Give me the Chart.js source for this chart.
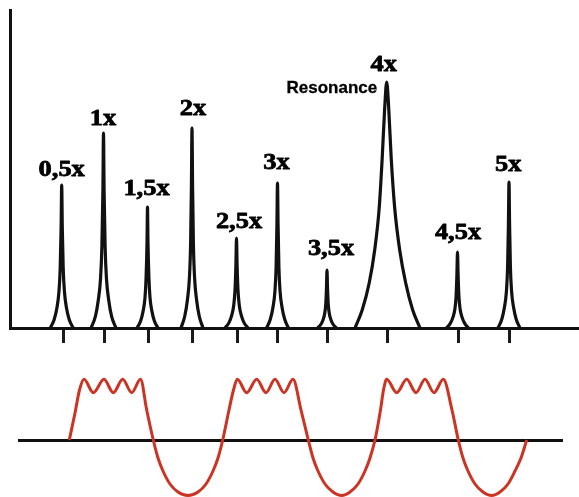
<!DOCTYPE html>
<html><head><meta charset="utf-8">
<script src="https://cdn.jsdelivr.net/npm/chart.js@4.4.0/dist/chart.umd.min.js"></script>
<style>
html,body{margin:0;padding:0;background:#fff;}
#wrap{position:relative;width:579px;height:497px;overflow:hidden;background:#fff;}
#top{position:absolute;left:0;top:0;}
#bot{position:absolute;left:0;top:350px;}
</style></head><body>
<div id="wrap"><canvas id="top" width="579" height="350"></canvas><canvas id="bot" width="579" height="147"></canvas></div>
<script>
// ---- Spectrum: peak labels and tick (order) positions on the frequency axis ----
const peakLabels = ['0,5x','1x','1,5x','2x','2,5x','3x','3,5x','4x','4,5x','5x'];
const tickPositions = [53.5, 94.5, 138, 182, 227, 267.5, 317.5, 377, 448, 499.3];

// ---- Spectrum peaks: [frequency, amplitude] ----
const peak05 = [[40.2,0],[44.2,8.6],[46.9,20],[48.9,35.8],[50.2,60],[51.1,100],[51.7,143],[52.3,100],[53.2,60],[54.5,35.8],[56.5,20],[59.2,8.6],[63.2,0]];
const peak10 = [[81,0],[85.4,11.7],[88.2,27.3],[90.5,48.8],[91.9,81.9],[92.9,136.5],[93.5,195],[94.1,136.5],[95.1,81.9],[96.5,48.8],[98.8,27.3],[101.6,11.7],[106,0]];
const peak15 = [[127,0],[130.7,7.3],[133.1,16.9],[135,30.3],[136.1,50.8],[137,84.7],[137.5,121],[138,84.7],[138.9,50.8],[140,30.3],[141.9,16.9],[144.3,7.3],[148,0]];
const peak20 = [[171,0],[174.8,12],[177.4,28],[179.4,50],[180.6,84],[181.4,140],[182,200],[182.6,140],[183.4,84],[184.6,50],[186.6,28],[189.2,12],[193,0]];
const peak25 = [[215,0],[219,5.4],[221.7,12.6],[223.7,22.5],[225,37.8],[225.9,63],[226.5,90],[227.1,63],[228,37.8],[229.3,22.5],[231.3,12.6],[234,5.4],[238,0]];
const peak30 = [[256.5,0],[260.3,8.7],[262.9,20.3],[264.9,36.3],[266.1,60.9],[266.9,101.5],[267.5,145],[268.1,101.5],[268.9,60.9],[270.1,36.3],[272.1,20.3],[274.7,8.7],[278.5,0]];
const peak35 = [[307.5,0],[310.8,3.5],[313,8.1],[314.7,14.5],[315.8,24.4],[316.5,40.6],[317,58],[317.5,40.6],[318.2,24.4],[319.3,14.5],[321,8.1],[323.2,3.5],[326.5,0]];
const peak40 = [[345,0],[352.2,18],[359.2,45],[364.7,78],[369.2,120],[372.2,170],[374.7,220],[376.7,246],[378.7,220],[381.2,170],[384.7,120],[389.7,78],[395.7,45],[402.7,18],[410,0]];
const peak45 = [[436.5,0],[440.3,4.6],[442.9,10.6],[444.9,19],[446.1,31.9],[446.9,53.2],[447.5,76],[448.1,53.2],[448.9,31.9],[450.1,19],[452.1,10.6],[454.7,4.6],[458.5,0]];
const peak50 = [[488,0],[491.8,8.8],[494.4,20.4],[496.4,36.5],[497.6,61.3],[498.4,102.2],[499,146],[499.6,102.2],[500.4,61.3],[501.6,36.5],[503.6,20.4],[506.2,8.8],[510,0]];
const peaks = [peak05, peak10, peak15, peak20, peak25, peak30, peak35, peak40, peak45, peak50];
const resonanceText = 'Resonance';

// ---- Time signal (red wave): time and amplitude ----
const waveT = [51.3,57,61.5,66,75.3,86,95.3,104.7,113.7,122.5,128.7,135.3,140,145,152,160,170,180,188,195,200,204.7,211,215.5,219.3,228.7,238.7,248,257,266,275,283,290.3,295,300,307,315,323.7,332,340,347,352,357,362.5,365.5,368.7,378.7,388.7,398,407,416,425.3,434,440.3,445,450,457,465,473.7,482,490,497,503,508.7];
const waveV = [0,27,50,60.7,47.3,60.7,47.3,60.7,47.3,60.7,30,0,-18,-31,-44,-52,-55.5,-52,-44,-31,-18,0,30,50,60.7,47.3,60.7,47.3,60.7,47.3,60.7,30,0,-18,-31,-44,-52,-55.5,-52,-44,-31,-18,0,30,50,60.7,47.3,60.7,47.3,60.7,47.3,60.7,30,0,-18,-31,-44,-52,-55.5,-52,-44,-31,-18,0];

// layout-only nudges for label placement (pixels)
const labelGap = [9, 8, 12, 13, 10, 14, 15, 11, 13, 11];
const labelShift = [0, -0.5, -1, 1, 2.5, -1, 4, -3, 0.5, -0.7];

const labelPlugin = {
  id: 'peakLabels',
  afterDatasetsDraw(chart) {
    const ctx = chart.ctx, xs = chart.scales.x, ys = chart.scales.y;
    ctx.save();
    ctx.fillStyle = '#000';
    ctx.strokeStyle = '#000';
    ctx.textBaseline = 'alphabetic';
    peaks.forEach((p, i) => {
      const apex = p.reduce((a, b) => (b[1] > a[1] ? b : a));
      const px = xs.getPixelForValue(apex[0]) + labelShift[i];
      const py = ys.getPixelForValue(apex[1]) - labelGap[i];
      ctx.save();
      ctx.translate(px, py);
      ctx.scale(1.1, 1);
      ctx.textAlign = 'center';
      ctx.font = 'bold 24px "Liberation Serif", "Times New Roman", serif';
      ctx.lineWidth = 0.8;
      ctx.lineJoin = 'round';
      ctx.fillText(peakLabels[i], 0, 0);
      ctx.strokeText(peakLabels[i], 0, 0);
      ctx.restore();
    });
    const a4 = peak40.reduce((a, b) => (b[1] > a[1] ? b : a));
    ctx.textAlign = 'right';
    ctx.font = 'bold 17px "Liberation Sans", Arial, sans-serif';
    ctx.lineWidth = 0.3;
    ctx.fillText(resonanceText, xs.getPixelForValue(a4[0]) - 9.5, ys.getPixelForValue(a4[1]) + 11);
    ctx.strokeText(resonanceText, xs.getPixelForValue(a4[0]) - 9.5, ys.getPixelForValue(a4[1]) + 11);
    ctx.restore();
  }
};

new Chart(document.getElementById('top'), {
  type: 'scatter',
  data: {
    datasets: peaks.map(p => ({
      data: p.map(v => ({ x: v[0], y: v[1] })),
      showLine: true,
      borderColor: '#111',
      borderWidth: 3.2,
      pointRadius: 0,
      cubicInterpolationMode: 'monotone'
    }))
  },
  options: {
    responsive: false,
    animation: false,
    devicePixelRatio: 1,
    layout: { padding: { left: 10, top: 10, right: 0, bottom: 7 } },
    plugins: { legend: { display: false }, tooltip: { enabled: false } },
    scales: {
      x: {
        type: 'linear', min: 0, max: 569,
        afterBuildTicks(s) { s.ticks = tickPositions.map(v => ({ value: v })); },
        ticks: { display: false },
        grid: { drawOnChartArea: false, drawTicks: true, tickLength: 15, tickWidth: 3, tickColor: '#1a1a1a' },
        border: { display: true, color: '#111', width: 3 }
      },
      y: {
        type: 'linear', min: 0, max: 318,
        ticks: { display: false },
        grid: { display: false, drawTicks: false },
        border: { display: true, color: '#111', width: 3 }
      }
    }
  },
  plugins: [labelPlugin]
});

new Chart(document.getElementById('bot'), {
  type: 'scatter',
  data: {
    datasets: [{
      data: waveT.map((t, i) => ({ x: t, y: waveV[i] })),
      showLine: true,
      borderColor: '#cc3322',
      borderWidth: 3,
      pointRadius: 0,
      cubicInterpolationMode: 'monotone',
      clip: false
    }]
  },
  options: {
    responsive: false,
    animation: false,
    devicePixelRatio: 1,
    layout: { padding: { left: 18, right: 16, top: 0, bottom: 0 } },
    plugins: { legend: { display: false }, tooltip: { enabled: false } },
    scales: {
      x: { type: 'linear', min: 0, max: 545, display: false },
      y: {
        type: 'linear', min: -57, max: 90,
        afterBuildTicks(s) { s.ticks = [{ value: 0 }]; },
        ticks: { display: false },
        border: { display: false },
        grid: { drawTicks: false, lineWidth: 3, color: '#111' }
      }
    }
  }
});
</script></body></html>
